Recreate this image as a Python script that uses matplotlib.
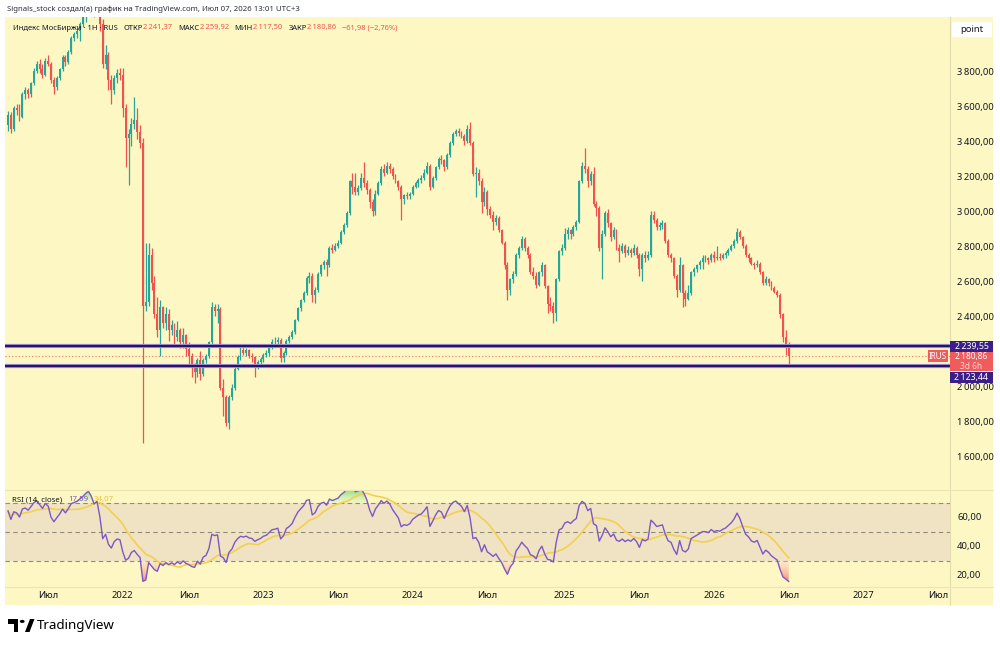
import numpy as np
import pandas as pd
import matplotlib
matplotlib.use("Agg")
import matplotlib.pyplot as plt
from matplotlib.patches import Rectangle, Polygon, Circle
from matplotlib.lines import Line2D
from matplotlib.path import Path
from matplotlib.colors import LinearSegmentedColormap

plt.rcParams['font.family'] = ['Noto Sans', 'DejaVu Sans']

# ---------------- data (weekly candles, Индекс МосБиржи) ----------------
first_week = '2021-03-29'
last_week = '2026-07-06'
closed_weeks = ['2022-02-28', '2022-03-07', '2022-03-14']

opens = [
    # 2021
    3500,3560,3480,3600,3590,3550,3680,3700,3680,3740, 3810,3850,3820,3790,3870,3850,3760,3720,3770,3820,
    3890,3860,3920,4000,4020,4040,4080,4120,4180,4230, 4200,4150,4190,4080,3850,3900,3760,3700,3770,3800,
    # 2022
    3790,3600,3430,3450,3510,3530,3460,3400,2470,2490, 2760,2600,2420,2330,2460,2370,2420,2330,2360,2290,
    2330,2260,2300,2220,2180,2120,2090,2160,2080,2160, 2180,2260,2460,2440,2450,2000,1950,1800,1950,2000,
    2110,2175,2215,2200,2215,2185,2175,2130,2150,
    # 2023
    2165,2190,2200,2230,2260,2265,2275,2170,2200,2270, 2290,2320,2390,2455,2500,2545,2630,2640,2530,2560,
    2650,2700,2720,2700,2800,2790,2810,2830,2890,2930, 3000,3180,3150,3120,3140,3200,3170,3130,3060,3010,
    3110,3170,3250,3230,3270,3250,3210,3180,3150,3080, 3100,3095,
    # 2024
    3110,3150,3170,3190,3200,3230,3270,3150,3200,3260, 3310,3300,3260,3330,3400,3450,3470,3455,3440,3410,
    3480,3400,3220,3230,3180,3060,3120,3020,2990,2950, 2970,2900,2830,2700,2560,2620,2650,2760,2800,2850,
    2800,2760,2660,2640,2590,2660,2700,2580,2480,2470, 2430,2620,2780,
    # 2025
    2800,2880,2900,2880,2920,2950,3180,3270,3250,3180, 3220,3050,3030,2800,2880,3000,2940,2860,2900,2800,
    2780,2810,2770,2790,2770,2800,2760,2680,2760,2740, 2760,2990,2960,2920,2930,2940,2840,2760,2740,2640,
    2560,2700,2540,2510,2540,2660,2680,2700,2720,2740, 2740,2730,
    # 2026
    2760,2740,2750,2745,2760,2770,2790,2810,2840,2890, 2860,2810,2760,2740,2710,2700,2710,2660,2600,2620,
    2600,2570,2550,2530,2420,2290,2241.37,
]
highs = [
    3580,3575,3610,3625,3620,3690,3720,3715,3750,3830, 3870,3880,3850,3885,3905,3860,3775,3785,3830,3900,
    3905,3930,4010,4035,4055,4090,4130,4200,4290,4270, 4230,4210,4200,4110,3960,3920,3790,3790,3820,3830,
    3830,3620,3480,3540,3660,3600,3500,3430,2830,2830, 2800,2640,2520,2500,2470,2460,2450,2390,2370,2380,
    2340,2340,2310,2260,2200,2140,2170,2210,2170,2195, 2270,2490,2480,2480,2460,2050,1960,1960,2020,2120,
    2190,2240,2250,2230,2225,2200,2185,2160,2175,
    2200,2215,2240,2280,2290,2290,2285,2210,2280,2300, 2330,2395,2460,2510,2555,2640,2660,2655,2575,2660,
    2710,2730,2735,2810,2825,2830,2845,2900,2940,3010, 3190,3230,3230,3160,3230,3290,3190,3140,3080,3130,
    3180,3270,3280,3290,3285,3260,3225,3190,3160,3110, 3120,3120,
    3160,3180,3200,3215,3250,3290,3280,3210,3270,3320, 3330,3310,3340,3410,3460,3480,3485,3470,3450,3500,
    3520,3410,3260,3250,3200,3150,3130,3040,3010,2990, 2980,2910,2840,2720,2630,2670,2770,2810,2870,2860,
    2810,2770,2690,2660,2670,2720,2710,2590,2520,2490, 2630,2790,2820,
    2915,2920,2910,2930,2960,3190,3290,3370,3270,3240, 3260,3070,3040,2900,3010,3020,2950,2920,2910,2820,
    2830,2820,2810,2800,2820,2810,2770,2770,2780,2780, 3010,3010,2970,2950,2960,2950,2850,2770,2750,2650,
    2750,2710,2560,2590,2670,2690,2710,2730,2760,2760, 2750,2770,
    2780,2810,2770,2770,2780,2800,2820,2850,2914,2900, 2870,2820,2770,2750,2720,2730,2720,2670,2640,2630,
    2610,2580,2560,2540,2430,2330,2259.92,
]
lows = [
    3470,3455,3470,3560,3525,3540,3650,3655,3665,3730, 3800,3800,3770,3780,3840,3745,3680,3705,3760,3810,
    3840,3850,3910,3985,4000,3985,4060,4090,4160,4150, 4120,4130,4040,3830,3820,3700,3620,3680,3740,3760,
    3550,3260,3160,3380,3480,3420,3370,1686,2440,2470, 2560,2400,2290,2180,2340,2330,2270,2300,2250,2270,
    2230,2230,2180,2130,2060,2030,2060,2046,2070,2140, 2170,2250,2410,2370,1990,1840,1780,1765,1930,1990,
    2100,2160,2190,2180,2170,2150,2063,2110,2130,
    2150,2175,2185,2220,2240,2250,2150,2150,2190,2255, 2280,2310,2380,2440,2490,2530,2600,2490,2486,2550,
    2640,2680,2640,2690,2770,2780,2800,2820,2880,2920, 2990,3110,3100,3100,3130,3150,3110,3030,2985,2990,
    3100,3160,3210,3220,3230,3195,3170,3130,2960,3050, 3080,3080,
    3100,3140,3150,3170,3190,3220,3130,3140,3190,3250, 3280,3240,3250,3320,3390,3440,3440,3430,3390,3400,
    3390,3210,3090,3160,3000,3040,2990,2970,2900,2930, 2890,2820,2680,2500,2530,2600,2640,2740,2790,2780,
    2740,2650,2620,2570,2580,2640,2570,2430,2440,2370, 2380,2610,2760,
    2790,2850,2850,2870,2900,2940,3170,3230,3150,3160, 3040,2980,2780,2620,2870,2920,2840,2850,2790,2720,
    2770,2750,2760,2750,2760,2740,2640,2610,2720,2730, 2750,2940,2900,2900,2910,2830,2750,2720,2630,2520,
    2550,2460,2470,2500,2530,2640,2660,2680,2680,2720, 2710,2720,
    2720,2730,2730,2735,2745,2760,2780,2800,2830,2850, 2800,2750,2720,2700,2680,2690,2650,2590,2590,2580,
    2560,2540,2520,2400,2260,2190,2117.50,
]
closes = [
    3560,3480,3600,3590,3550,3680,3700,3680,3740,3810, 3850,3820,3790,3870,3850,3760,3720,3770,3820,3890,
    3860,3920,4000,4020,4040,4080,4120,4180,4230,4200, 4150,4190,4080,3850,3900,3760,3700,3770,3800,3790,
    3600,3430,3450,3510,3530,3460,3400,2470,2490,2760, 2600,2420,2330,2460,2370,2420,2330,2360,2290,2330,
    2260,2300,2220,2180,2120,2090,2160,2080,2160,2180, 2260,2460,2440,2450,2000,1950,1800,1950,2000,2110,
    2175,2215,2200,2215,2185,2175,2130,2150,2165,
    2190,2200,2230,2260,2265,2275,2170,2200,2270,2290, 2320,2390,2455,2500,2545,2630,2640,2530,2560,2650,
    2700,2720,2700,2800,2790,2810,2830,2890,2930,3000, 3180,3150,3120,3140,3200,3170,3130,3060,3010,3110,
    3170,3250,3230,3270,3250,3210,3180,3150,3080,3100, 3095,3110,
    3150,3170,3190,3200,3230,3270,3150,3200,3260,3310, 3300,3260,3330,3400,3450,3470,3455,3440,3410,3480,
    3400,3220,3230,3180,3060,3120,3020,2990,2950,2970, 2900,2830,2700,2560,2620,2650,2760,2800,2850,2800,
    2760,2660,2640,2590,2660,2700,2580,2480,2470,2430, 2620,2780,2800,
    2880,2900,2880,2920,2950,3180,3270,3250,3180,3220, 3050,3030,2800,2880,3000,2940,2860,2900,2800,2780,
    2810,2770,2790,2770,2800,2760,2680,2760,2740,2760, 2990,2960,2920,2930,2940,2840,2760,2740,2640,2560,
    2700,2540,2510,2540,2660,2680,2700,2720,2740,2740, 2730,2760,
    2740,2750,2745,2760,2770,2790,2810,2840,2890,2860, 2810,2760,2740,2710,2700,2710,2660,2600,2620,2600,
    2570,2550,2530,2420,2290,2242.84,2180.86,
]

hline_levels = [2239.55, 2123.44]
price_ticks = [1600, 1800, 2000, 2200, 2400, 2600, 2800, 3000, 3200, 3400, 3600, 3800]
rsi_ticks = [20, 40, 60]
rsi_levels = [70, 50, 30]
rsi_period = 14
rsi_ma_period = 14
rsi_seed_gain, rsi_seed_loss = 40.0, 22.0   # state of RSI before first visible bar
rsi_label_values = ['17,59', '34,07']
countdown = '3d 6h'
index_name = 'Индекс МосБиржи'
interval = '1Н'
exchange = 'RUS'
symbol = 'IRUS'
title = 'Signals_stock создал(а) график на TradingView.com, Июл 07, 2026 13:01 UTC+3'

# ---------------- derived ----------------
o = np.array(opens, float); h = np.array(highs, float)
l = np.array(lows, float); c = np.array(closes, float)
n = len(c)
weeks = pd.date_range(first_week, last_week, freq='W-MON')
weeks = weeks[~weeks.isin(pd.to_datetime(closed_weeks))]
future = pd.date_range(last_week, periods=80, freq='W-MON')[1:]
all_dates = weeks.append(future)
x = np.arange(n)

# Wilder RSI
ag, al = rsi_seed_gain, rsi_seed_loss
rsi = np.empty(n)
for i in range(n):
    if i > 0:
        d = c[i] - c[i - 1]
        ag = (ag * (rsi_period - 1) + max(d, 0)) / rsi_period
        al = (al * (rsi_period - 1) + max(-d, 0)) / rsi_period
    rsi[i] = 100 - 100 / (1 + ag / al)
rsi_ma = pd.Series(rsi).rolling(rsi_ma_period, min_periods=1).mean().values

# ---------------- figure ----------------
W, H = 1000, 646
fig = plt.figure(figsize=(W / 100, H / 100), dpi=100)
fig.patch.set_facecolor('white')
def fx(px): return px / W
def fy(py): return 1 - py / H

BG = '#fdf7c4'
DARK = '#131722'
RED = '#ef5350'
GREEN = '#26a69a'
PURPLE_BOX = '#3b1f86'
fig.add_artist(Rectangle((fx(5), fy(605)), fx(993) - fx(5), fy(17) - fy(605),
                         transform=fig.transFigure, facecolor=BG, edgecolor='none', zorder=-10))

XL = (-1.05, 328.2)
ax = fig.add_axes([fx(5), fy(490), fx(950) - fx(5), fy(17) - fy(490)])
ax2 = fig.add_axes([fx(5), fy(587), fx(950) - fx(5), fy(490) - fy(587)])
for a in (ax, ax2):
    a.set_facecolor('none')
    for s in a.spines.values():
        s.set_visible(False)
    a.set_xticks([]); a.set_yticks([])
    a.set_xlim(*XL)
ax.set_ylim(1417, 4120)
ax2.set_ylim(12, 79)

# candles
up = c >= o
cols = np.where(up, GREEN, RED)
ax.vlines(x, l, h, colors=cols, lw=0.9, zorder=3)
body_lo = np.minimum(o, c)
body_h = np.maximum(np.abs(c - o), 4)
ax.bar(x, body_h, bottom=body_lo, width=0.68, color=cols, linewidth=0, zorder=4)

# horizontal levels
for lev in hline_levels:
    ax.axhline(lev, color='#a395dc', lw=3.0, zorder=5)
    ax.axhline(lev, color='#2a1266', lw=1.6, zorder=6)
ax.axhline(c[-1], color=RED, lw=0.8, ls=(0, (1, 2)), zorder=2, alpha=0.8)

# RSI pane
ax2.axhspan(rsi_levels[2], rsi_levels[0], color='#efe3c3', zorder=0, lw=0)
for lev in rsi_levels:
    ax2.axhline(lev, color='#8f8a7a', lw=0.8, ls=(0, (4, 3)), zorder=1)

def grad_fill(a, yv, base, where, y0, y1, c_low, c_high):
    coll = a.fill_between(x, yv, base, where=where, interpolate=True,
                          facecolor='none', edgecolor='none')
    paths = coll.get_paths()
    if not paths:
        return
    cp = Path.make_compound_path(*paths)
    cmap = LinearSegmentedColormap.from_list('g', [c_low, c_high])
    grad = np.linspace(0, 1, 256).reshape(-1, 1)
    im = a.imshow(grad, extent=[x[0], x[-1], y0, y1], origin='lower', cmap=cmap,
                  aspect='auto', zorder=2, interpolation='bicubic')
    im.set_clip_path(cp, transform=a.transData)

grad_fill(ax2, rsi, 70, rsi > 70, 70, 79, (0.85, 0.95, 0.75, 0.3), (0.45, 0.85, 0.45, 0.9))
grad_fill(ax2, rsi, 30, rsi < 30, 12, 30, (0.95, 0.35, 0.3, 0.95), (1.0, 0.85, 0.8, 0.35))
ax2.plot(x, rsi_ma, color='#f3d04e', lw=1.2, zorder=3)
ax2.plot(x, rsi, color='#7e57c2', lw=1.0, zorder=4)
ax2.set_xlim(*XL); ax2.set_ylim(12, 79)
ax.set_xlim(*XL); ax.set_ylim(1417, 4120)

# separators
fig.add_artist(Line2D([fx(950), fx(950)], [fy(17), fy(605)], color='#e3dcae', lw=0.8))
for yy in (490, 587):
    fig.add_artist(Line2D([fx(5), fx(993)], [fy(yy), fy(yy)], color='#ece4b4', lw=0.8))

inv = fig.transFigure.inverted()
def data_to_fig(a, xv, yv):
    return inv.transform(a.transData.transform((xv, yv)))

def fmt(v):
    s = f"{v:,.2f}"
    return s.replace(',', '\u2009').replace('.', ',')

# boxes on the price scale (computed first so covered tick labels can be skipped)
_, y1f = data_to_fig(ax, 0, hline_levels[0])
y1p = (1 - y1f) * H
box1_top = y1p - 5.5
red_top = box1_top + 11.5
box2_top = red_top + 19.5
covered = (box1_top - 4, box2_top + 11.5 + 4)

# price scale labels
for p in price_ticks:
    _, yf = data_to_fig(ax, 0, p)
    ypx = (1 - yf) * H
    if covered[0] < ypx < covered[1]:
        continue   # hidden behind the price labels, as on the reference
    fig.text(fx(957), yf, fmt(p), fontsize=6.8, color=DARK, va='center', ha='left', zorder=1)
for p in rsi_ticks:
    _, yf = data_to_fig(ax2, 0, p)
    fig.text(fx(957), yf, fmt(p), fontsize=6.8, color=DARK, va='center', ha='left', zorder=1)

# time labels
targets = []
for yr in range(2021, 2028):
    for m in (1, 7):
        targets.append(pd.Timestamp(yr, m, 1))
for t in targets:
    idx = np.searchsorted(all_dates.values, np.datetime64(t))
    if idx > XL[1] - 3:
        continue
    lab = 'Июл' if t.month == 7 else str(t.year)
    xf, _ = data_to_fig(ax2, idx, 0)
    if xf < fx(15):
        continue
    fig.text(xf, fy(596), lab, fontsize=6.8, color=DARK, ha='center', va='center',
             fontweight='bold' if t.month == 1 else 'normal')

def scale_box(y_top_px, h_px, color, lines, x0=950, x1=993, tcolors=None, size=6.3):
    fig.add_artist(Rectangle((fx(x0), fy(y_top_px + h_px)), fx(x1) - fx(x0), h_px / H,
                             transform=fig.transFigure, facecolor=color, edgecolor='none', zorder=20))
    nl = len(lines)
    for k, s in enumerate(lines):
        yc = y_top_px + h_px * (k + 0.5) / nl
        col = 'white' if tcolors is None else tcolors[k]
        fig.text(fx((x0 + x1) / 2), fy(yc), s, fontsize=size, color=col, ha='center',
                 va='center', zorder=21)

scale_box(box1_top, 11, PURPLE_BOX, [fmt(hline_levels[0])])
scale_box(red_top, 19, '#f05b5b', [fmt(c[-1]), countdown], tcolors=['white', '#ffd6d6'], size=6.0)
scale_box(box2_top, 11.5, PURPLE_BOX, [fmt(hline_levels[1])])
_, ycf = data_to_fig(ax, 0, c[-1])
ycp = (1 - ycf) * H
scale_box(ycp - 6, 12, '#f05b5b', [symbol], x0=928, x1=948, size=5.8)

# "point" box
fig.add_artist(Rectangle((fx(952), fy(37)), fx(992) - fx(952), 15 / H, transform=fig.transFigure,
                         facecolor='white', edgecolor='none', zorder=20))
fig.text(fx(972), fy(29.5), 'point', fontsize=6.8, color=DARK, ha='center', va='center', zorder=21)

renderer = fig.canvas.get_renderer()

def chain(x0, y0, x1, segs):
    # measure at size 10, then scale so that the row spans x0..x1
    widths = []
    for s, col, gap, kw in segs:
        t = fig.text(0, 0, s, fontsize=10, **kw)
        widths.append(t.get_window_extent(renderer).width)
        t.remove()
    gaps = sum(g for _, _, g, _ in segs)
    size = 10 * (x1 - x0 - gaps) / sum(widths)
    xp = x0
    for (s, col, gap, kw), w in zip(segs, widths):
        fig.text(fx(xp), fy(y0), s, fontsize=size, color=col, ha='left', va='center', zorder=15, **kw)
        xp += w * size / 10 + gap

chain(7, 9, 300, [(title, '#2a2e39', 0, {})])
chg = c[-1] - c[-2]
pct = chg / c[-2] * 100
chg_s = (fmt(chg) + ' (' + fmt(pct) + '%)').replace('-', '\u2212')
chain(13, 28, 398, [
    (f'{index_name} · {interval} · {exchange}', DARK, 6, {}),
    ('ОТКР', DARK, 0.5, {}), (fmt(o[-1]), RED, 6, {}),
    ('МАКС', DARK, 0.5, {}), (fmt(h[-1]), RED, 6, {}),
    ('МИН', DARK, 0.5, {}), (fmt(l[-1]), RED, 6, {}),
    ('ЗАКР', DARK, 0.5, {}), (fmt(c[-1]), RED, 6, {}),
    (chg_s, RED, 0, {}),
])
chain(12, 500, 113, [
    ('RSI (14, close)', DARK, 6, {}),
    (rsi_label_values[0], '#7e57c2', 5, {}),
    (rsi_label_values[1], '#e8c43a', 0, {}),
])

# TradingView logo
def P(px, py): return (fx(px), fy(py))
fig.add_artist(Polygon([P(8, 619), P(18, 619), P(18, 632), P(13.5, 632), P(13.5, 623.5), P(8, 623.5)],
                       closed=True, transform=fig.transFigure, facecolor='black', edgecolor='none'))
fig.add_artist(Polygon([P(25, 632), P(29.5, 632), P(34.5, 619), P(30, 619)],
                       closed=True, transform=fig.transFigure, facecolor='black', edgecolor='none'))
fig.add_artist(Circle(P(22.2, 621.4), 2.4 / W, transform=fig.transFigure, facecolor='black',
                      edgecolor='none'))
chain(37, 626, 115, [('TradingView', 'black', 0, {'fontweight': 'bold'})])

fig.savefig('out.png', dpi=100, facecolor='white')
